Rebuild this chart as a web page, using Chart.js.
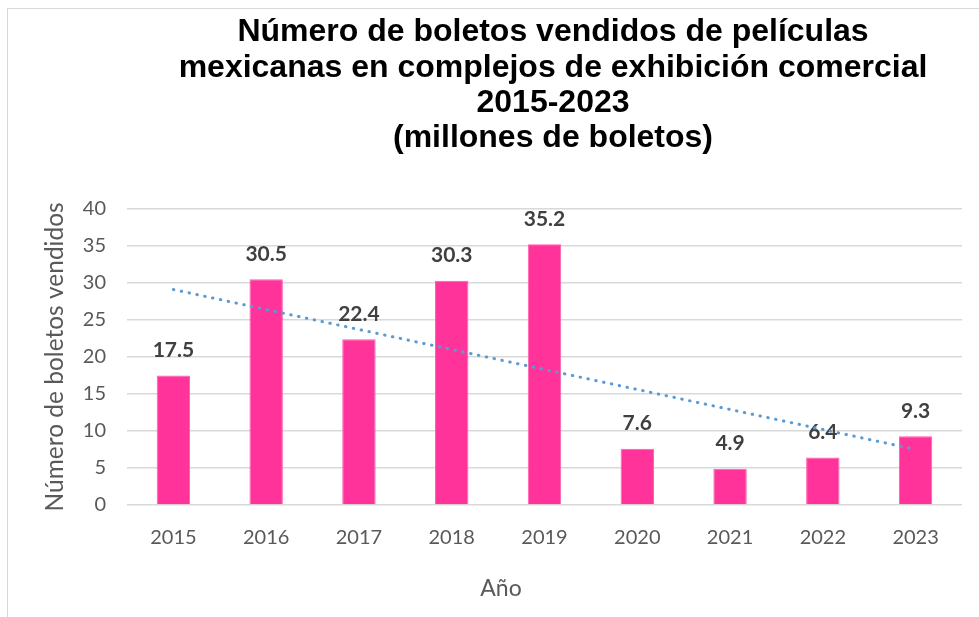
<!DOCTYPE html>
<html>

<head>
  <meta charset="UTF-8">
  <title>Boletos vendidos de películas mexicanas</title>
  <script src="https://cdn.jsdelivr.net/npm/chart.js"></script>
  <style>
    body {
      margin: 0;
      padding: 0;
      background: #fff;
      overflow: hidden;
    }

    #chart-box {
      position: absolute;
      left: 7px;
      top: 8px;
      width: 1090px;
      height: 640px;
      border: 1px solid #d9d9d9;
    }
  </style>
</head>

<body>
  <div id="chart-box">
    <canvas id="boletosChart" width="1090" height="640"></canvas>
  </div>

  <script>
    // datos
    var years = ['2015', '2016', '2017', '2018', '2019', '2020', '2021', '2022', '2023'];
    var boletos = [17.5, 30.5, 22.4, 30.3, 35.2, 7.6, 4.9, 6.4, 9.3];
    // linea de tendencia (extremos)
    var tendencia = [29.1, null, null, null, null, null, null, null, 7.5];
    var yTicks = [0, 5, 10, 15, 20, 25, 30, 35, 40];

    var titulo = [
      'Número de boletos vendidos de películas',
      'mexicanas en complejos de exhibición comercial',
      '2015-2023',
      '(millones de boletos)'
    ];

    // etiquetas encima de las barras
    var barLabels = {
      id: 'barLabels',
      afterDatasetDraw: function (chart, args) {
        if (args.index !== 0) return;
        var ctx = chart.ctx;
        ctx.save();
        ctx.font = 'bold 21px Lato';
        ctx.fillStyle = '#404040';
        ctx.textAlign = 'center';
        ctx.textBaseline = 'middle';
        args.meta.data.forEach(function (bar, i) {
          ctx.fillText(boletos[i].toFixed(1), bar.x, bar.y - 25);
        });
        ctx.restore();
      }
    };

    // titulo del eje x (Excel lo deja algo a la izquierda)
    var xTitle = {
      id: 'xTitle',
      afterDraw: function (chart) {
        var ctx = chart.ctx;
        ctx.save();
        ctx.font = '23px Lato';
        ctx.fillStyle = '#595959';
        ctx.textAlign = 'center';
        ctx.textBaseline = 'middle';
        ctx.fillText('Año', 493, 580);
        ctx.restore();
      }
    };

    var ctx = document.getElementById('boletosChart').getContext('2d');
    var boletosChart = new Chart(ctx, {
      type: 'bar',
      data: {
        labels: years,
        datasets: [
          {
            label: 'Boletos vendidos',
            data: boletos,
            backgroundColor: '#FF3399',
            borderColor: '#FF5CAD',
            borderWidth: 1,
            categoryPercentage: 1,
            barPercentage: 0.36,
            order: 1
          },
          {
            type: 'line',
            label: 'Tendencia',
            data: tendencia,
            spanGaps: true,
            borderColor: '#5B9BD5',
            borderWidth: 3,
            borderDash: [0.5, 7.5],
            borderCapStyle: 'round',
            pointRadius: 0,
            fill: false,
            order: 0
          }
        ]
      },
      options: {
        responsive: false,
        animation: false,
        layout: {
          padding: { left: 30, right: 30, top: 0, bottom: 44 }
        },
        plugins: {
          legend: { display: false },
          tooltip: { enabled: false },
          title: {
            display: true,
            text: titulo,
            color: '#000',
            font: { family: 'Liberation Sans', size: 32, weight: 'bold', lineHeight: 1.1 },
            padding: { top: 6, bottom: 53 }
          }
        },
        scales: {
          x: {
            grid: { display: false },
            border: { display: false },
            ticks: {
              color: '#595959',
              font: { family: 'Lato', size: 20 },
              padding: 13
            },
            afterFit: function (s) { s.height = 100; }
          },
          y: {
            min: 0,
            max: 40,
            afterBuildTicks: function (s) {
              s.ticks = yTicks.map(function (v) { return { value: v }; });
            },
            grid: { color: '#d9d9d9', lineWidth: 1.5, drawTicks: false },
            border: { display: false },
            ticks: {
              color: '#595959',
              font: { family: 'Lato', size: 20 },
              padding: 21
            },
            title: {
              display: true,
              text: 'Número de boletos vendidos',
              color: '#595959',
              font: { family: 'Lato', size: 24.5 },
              padding: { top: 2, bottom: 2 }
            },
            afterFit: function (s) { s.width = 89; }
          },
          yR: {
            position: 'right',
            min: 0,
            max: 40,
            grid: { display: false },
            border: { display: false },
            ticks: { display: false },
            afterFit: function (s) { s.width = 106; }
          }
        }
      },
      plugins: [barLabels, xTitle]
    });
  </script>
</body>

</html>
